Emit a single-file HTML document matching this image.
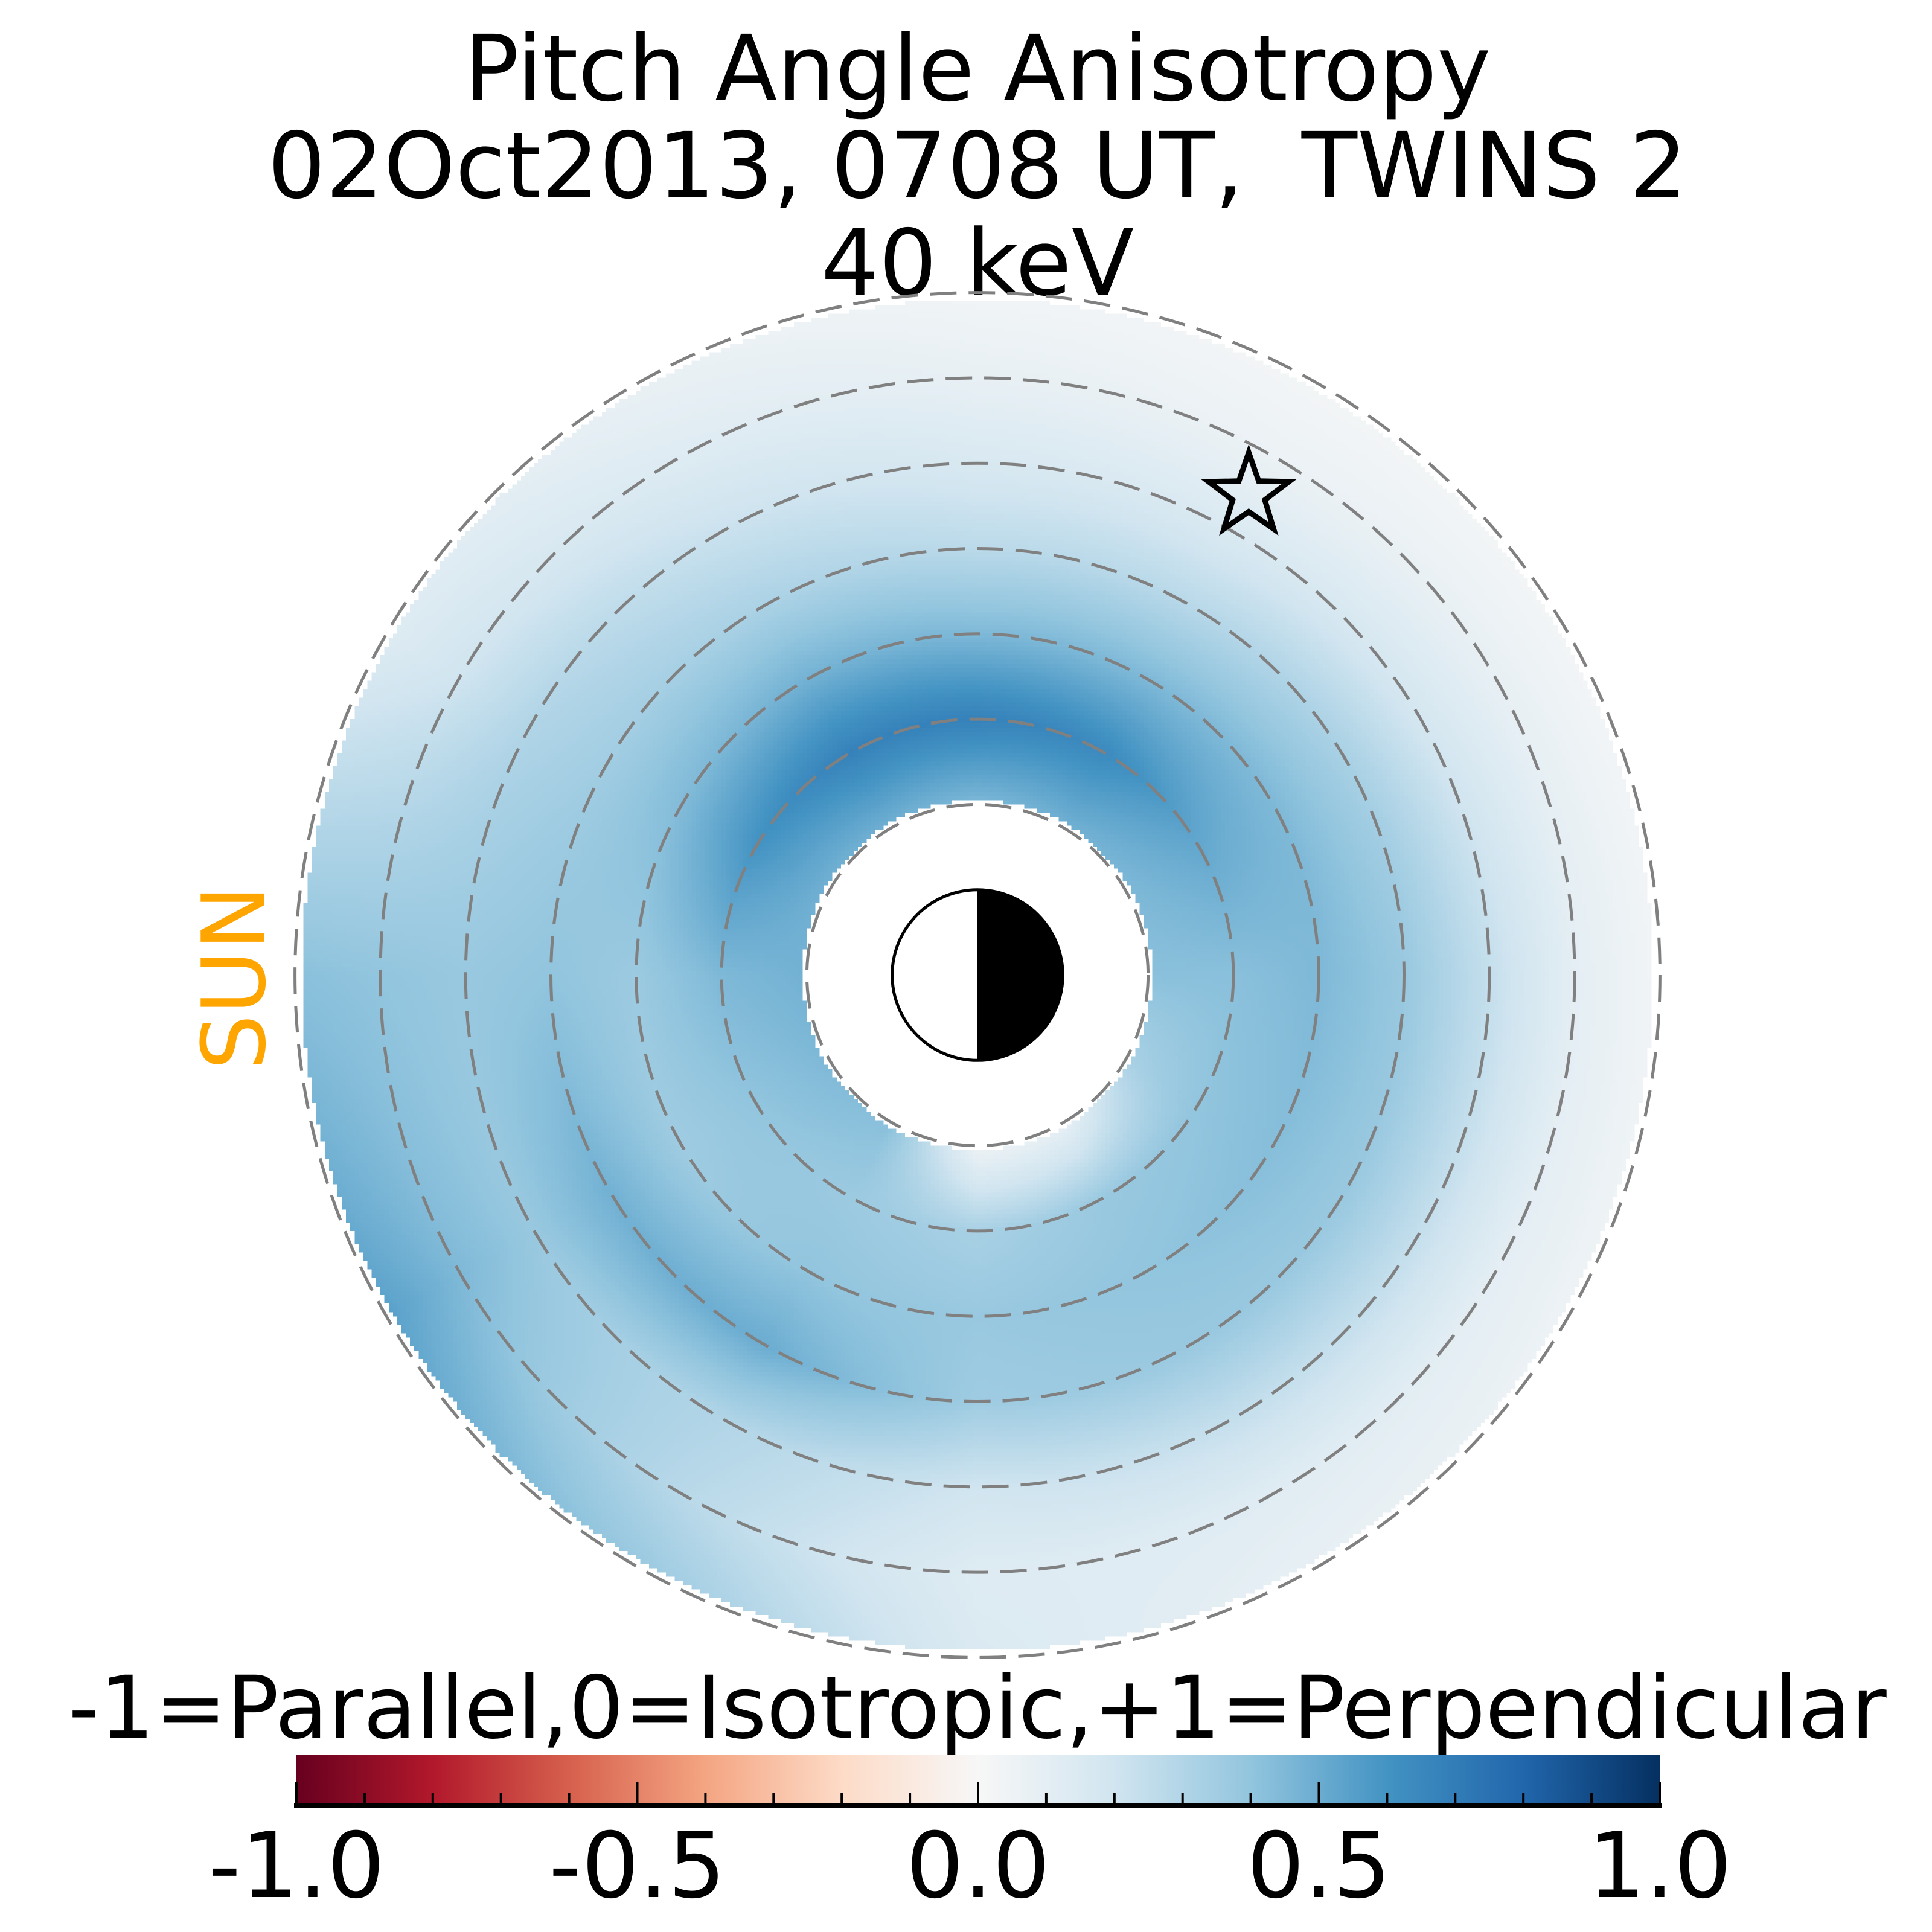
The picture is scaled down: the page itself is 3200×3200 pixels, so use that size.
<!DOCTYPE html>
<html><head><meta charset="utf-8"><style>
html,body{margin:0;padding:0;background:#fff;}
#wrap{position:relative;width:3200px;height:3200px;overflow:hidden;font-family:"DejaVu Sans","Liberation Sans",sans-serif;}
#heat{position:absolute;image-rendering:pixelated;}
svg{position:absolute;left:0;top:0;}
</style></head><body>
<div id="wrap">
<canvas id="heat"></canvas>
<svg id="svg" width="3200" height="3200" viewBox="0 0 3200 3200">
  <g font-size="151" text-anchor="middle" fill="#000" style="white-space:pre">
    <text x="1619" y="166">Pitch Angle Anisotropy</text>
    <text x="1619" y="327" xml:space="preserve">02Oct2013, 0708 UT,  TWINS 2</text>
    <text x="1619" y="488">40 keV</text>
  </g>
  <text x="0" y="0" font-size="145" fill="#ffa500" text-anchor="middle" transform="translate(438,1619) rotate(-90)">SUN</text>
  <g id="rings"></g>
  <g id="earth"></g>
  <polygon id="star" fill="none" stroke="#000" stroke-width="9" stroke-linejoin="miter"></polygon>
  <text x="1619" y="2878" font-size="143" text-anchor="middle">-1=Parallel,0=Isotropic,+1=Perpendicular</text>
  <defs><linearGradient id="cbg" x1="0" x2="1" y1="0" y2="0">
    <stop offset="0" stop-color="#67001f"/><stop offset="0.1" stop-color="#b2182b"/><stop offset="0.2" stop-color="#d6604d"/>
    <stop offset="0.3" stop-color="#f4a582"/><stop offset="0.4" stop-color="#fddbc7"/><stop offset="0.5" stop-color="#f7f7f7"/>
    <stop offset="0.6" stop-color="#d1e5f0"/><stop offset="0.7" stop-color="#92c5de"/><stop offset="0.8" stop-color="#4393c3"/>
    <stop offset="0.9" stop-color="#2166ac"/><stop offset="1" stop-color="#053061"/></linearGradient></defs>
  <rect x="491" y="2907" width="2258" height="84" fill="url(#cbg)"/>
  <g id="cbticks"></g>
</svg>
</div>
<script>
// polar grid data: angles (deg, CCW from +x), radii (units), values per angle row
const angles = [0,30,60,90,120,150,180,210,240,270,300,330];
const radii = [2,3,4,5,6,7,8];
const v000 = [0.42,0.42,0.45,0.38,0.24,0.10,0.03];
const v030 = [0.45,0.52,0.45,0.33,0.18,0.08,0.02];
const v060 = [0.48,0.64,0.45,0.28,0.15,0.06,0.02];
const v090 = [0.45,0.68,0.45,0.27,0.16,0.08,0.03];
const v120 = [0.48,0.68,0.48,0.32,0.22,0.13,0.07];
const v150 = [0.48,0.60,0.44,0.35,0.30,0.20,0.13];
const v180 = [0.48,0.45,0.37,0.40,0.38,0.40,0.42];
const v210 = [0.45,0.40,0.36,0.48,0.38,0.45,0.55];
const v240 = [0.42,0.37,0.40,0.50,0.30,0.28,0.38];
const v270 = [0.05,0.33,0.38,0.36,0.20,0.13,0.15];
const v300 = [0.08,0.38,0.40,0.38,0.24,0.12,0.08];
const v330 = [0.32,0.40,0.43,0.38,0.24,0.10,0.05];
const values = [v000,v030,v060,v090,v120,v150,v180,v210,v240,v270,v300,v330];
const ringRadii = [2,3,4,5,6,7,8];
const tickValues = [-1.0,-0.5,0.0,0.5,1.0];
const tickLabels = ["-1.0","-0.5","0.0","0.5","1.0"];
const starPos = [3.18, 5.63]; // x,y in units

const CX=1619, CY=1615, U=141.3, RIN=2.05, ROUT=7.92;
const NS='http://www.w3.org/2000/svg';
function sx(x){return CX+x*U;} function sy(y){return CY-y*U;}
const stops=[[-1,[103,0,31]],[-0.8,[178,24,43]],[-0.6,[214,96,77]],[-0.4,[244,165,130]],[-0.2,[253,219,199]],[0,[247,247,247]],[0.2,[209,229,240]],[0.4,[146,197,222]],[0.6,[67,147,195]],[0.8,[33,102,172]],[1,[5,48,97]]];
function cmap(v){v=Math.max(-1,Math.min(1,v));for(let i=0;i<stops.length-1;i++){const a=stops[i],b=stops[i+1];if(v<=b[0]){const t=(v-a[0])/(b[0]-a[0]);return a[1].map((c,k)=>Math.round(c+(b[1][k]-c)*t));}}return stops[stops.length-1][1];}
function sample(r,th){
  const na=angles.length, da=360/na;
  let a=((th%360)+360)%360; const ai=Math.floor(a/da), at=(a-ai*da)/da, aj=(ai+1)%na;
  let rr=Math.max(radii[0],Math.min(radii[radii.length-1],r));
  let ri=Math.min(radii.length-2,Math.floor(rr-radii[0])); const rt=(rr-radii[ri])/(radii[ri+1]-radii[ri]);
  const f=(row)=>row[ri]+(row[ri+1]-row[ri])*rt;
  return f(values[ai])*(1-at)+f(values[aj])*at;
}
// heatmap
const N=330, span=8.25, cv=document.getElementById('heat');
cv.width=N;cv.height=N;
const px=2*span*U;
cv.style.left=(CX-span*U)+'px';cv.style.top=(CY-span*U)+'px';cv.style.width=px+'px';cv.style.height=px+'px';
const ctx=cv.getContext('2d');const img=ctx.createImageData(N,N);
for(let j=0;j<N;j++)for(let i=0;i<N;i++){
  const x=-span+(i+0.5)*2*span/N, y=span-(j+0.5)*2*span/N, r=Math.hypot(x,y);
  const o=(j*N+i)*4;
  if(r<RIN||r>ROUT){img.data[o+3]=0;continue;}
  const th=Math.atan2(y,x)*180/Math.PI;const c=cmap(sample(r,th));
  img.data[o]=c[0];img.data[o+1]=c[1];img.data[o+2]=c[2];img.data[o+3]=255;
}
ctx.putImageData(img,0,0);
// rings
const rg=document.getElementById('rings');
ringRadii.forEach(r=>{const c=document.createElementNS(NS,'circle');
c.setAttribute('cx',CX);c.setAttribute('cy',CY);c.setAttribute('r',r*U);c.setAttribute('fill','none');
c.setAttribute('stroke','#808080');c.setAttribute('stroke-width','5');c.setAttribute('stroke-dasharray','44 20');


rg.appendChild(c);});
// earth
const eg=document.getElementById('earth');
eg.innerHTML='<circle cx="'+CX+'" cy="'+CY+'" r="'+U+'" fill="#fff"/><path d="M'+CX+' '+(CY-U)+' A'+U+' '+U+' 0 0 1 '+CX+' '+(CY+U)+' Z" fill="#000"/><circle cx="'+CX+'" cy="'+CY+'" r="'+U+'" fill="none" stroke="#000" stroke-width="5"/>';
// star
const st=document.getElementById('star');const pts=[];const R=70,r2=28,scx=sx(starPos[0]),scy=sy(starPos[1]);
for(let k=0;k<10;k++){const ang=-Math.PI/2+k*Math.PI/5;const rr=k%2?r2:R;pts.push((scx+rr*Math.cos(ang)).toFixed(1)+','+(scy+rr*Math.sin(ang)).toFixed(1));}
st.setAttribute('points',pts.join(' '));
// colorbar ticks
const X0=491,X1=2749,YB=2991;function cx(v){return X0+(v+1)/2*(X1-X0);}
const tg=document.getElementById('cbticks');
for(let k=-10;k<=10;k++){const v=k/10;const major=(k%5===0);const l=document.createElementNS(NS,'line');
l.setAttribute('x1',cx(v));l.setAttribute('x2',cx(v));l.setAttribute('y1',YB);l.setAttribute('y2',YB-(major?40:22));
l.setAttribute('stroke','#000');l.setAttribute('stroke-width','4');


tg.appendChild(l);}
const sp=document.createElementNS(NS,'line');sp.setAttribute('x1',X0-4);sp.setAttribute('x2',X1+4);sp.setAttribute('y1',YB);sp.setAttribute('y2',YB);sp.setAttribute('stroke','#000');sp.setAttribute('stroke-width','8');


tg.appendChild(sp);
tickValues.forEach((v,i)=>{const t=document.createElementNS(NS,'text');t.setAttribute('x',cx(v));t.setAttribute('y',3142);
t.setAttribute('font-size','150');t.setAttribute('text-anchor','middle');t.textContent=tickLabels[i];


tg.appendChild(t);});
</script>
</body></html>
